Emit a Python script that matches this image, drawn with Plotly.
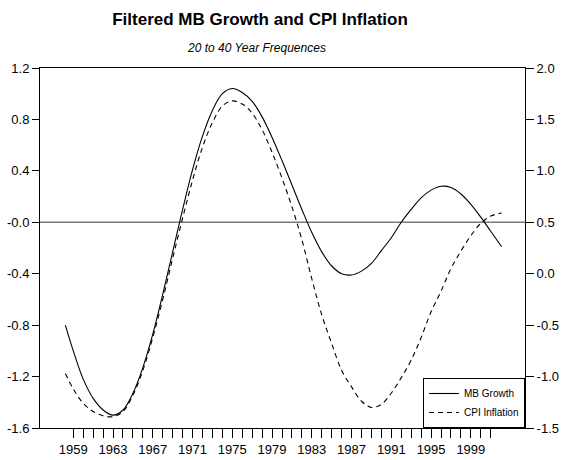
import plotly.graph_objects as go

# ---- data ----
years = [1958.2, 1959, 1960, 1961, 1962, 1963, 1964, 1965, 1966, 1967, 1968, 1969,
         1970, 1971, 1972, 1973, 1974, 1975, 1976, 1977, 1978, 1979, 1980, 1981,
         1982, 1983, 1984, 1985, 1986, 1987, 1988, 1989, 1990, 1991, 1992, 1993,
         1994, 1995, 1996, 1997, 1998, 1999, 2000, 2001, 2002.1]

mb_growth = [-0.80, -1.00, -1.22, -1.37, -1.46, -1.50, -1.46, -1.33, -1.13, -0.87,
             -0.56, -0.23, 0.10, 0.41, 0.67, 0.87, 1.00, 1.04, 1.01, 0.94, 0.82,
             0.66, 0.48, 0.29, 0.10, -0.08, -0.23, -0.34, -0.40, -0.41, -0.38,
             -0.32, -0.22, -0.12, 0.00, 0.10, 0.19, 0.25, 0.28, 0.27, 0.22, 0.14,
             0.04, -0.07, -0.19]

cpi_inflation = [-0.97, -1.12, -1.26, -1.34, -1.38, -1.39, -1.34, -1.18, -0.94,
                 -0.62, -0.25, 0.15, 0.54, 0.91, 1.23, 1.47, 1.63, 1.68, 1.65,
                 1.56, 1.40, 1.18, 0.93, 0.65, 0.33, -0.05, -0.40, -0.68, -0.94,
                 -1.10, -1.24, -1.30, -1.27, -1.16, -1.01, -0.84, -0.62, -0.37,
                 -0.17, 0.05, 0.22, 0.37, 0.49, 0.56, 0.59]

left_ticks = [1.2, 0.8, 0.4, 0.0, -0.4, -0.8, -1.2, -1.6]
left_labels = ["1.2", "0.8", "0.4", "-0.0", "-0.4", "-0.8", "-1.2", "-1.6"]
right_ticks = [2.0, 1.5, 1.0, 0.5, 0.0, -0.5, -1.0, -1.5]
right_labels = ["2.0", "1.5", "1.0", "0.5", "0.0", "-0.5", "-1.0", "-1.5"]
x_label_years = list(range(1959, 2000, 4))
x_minor_years = list(range(1959, 2002))

FONT = "Liberation Sans, Arial, Helvetica, sans-serif"

fig = go.Figure()
fig.add_trace(go.Scatter(x=years, y=mb_growth, mode="lines", name="MB Growth",
                         line=dict(color="black", width=1.1, shape="spline"),
                         yaxis="y"))
fig.add_trace(go.Scatter(x=years, y=cpi_inflation, mode="lines", name="CPI Inflation",
                         line=dict(color="black", width=1.1, dash="5px,4px", shape="spline"),
                         yaxis="y2"))

fig.add_shape(type="line", xref="paper", x0=0, x1=1, yref="y", y0=0, y1=0,
              line=dict(color="#7a7a7a", width=1.5), layer="below")

fig.update_layout(
    width=571, height=460,
    margin=dict(l=40, r=46, t=68, b=32, autoexpand=False),
    paper_bgcolor="white", plot_bgcolor="white",
    font=dict(family=FONT, size=13, color="black"),
    title=dict(text="<b>Filtered MB Growth and CPI Inflation</b>",
               x=260 / 571, xanchor="center", xref="container",
               y=1 - 19 / 460, yanchor="middle", yref="container",
               font=dict(family=FONT, size=17, color="black")),
    annotations=[dict(text="<i>20 to 40 Year Frequences</i>", xref="paper", yref="paper",
                      x=(256 - 40) / 485, y=1, yshift=20, showarrow=False,
                      xanchor="center", yanchor="middle",
                      font=dict(family=FONT, size=12, color="black"))],
    xaxis=dict(range=[1955.65, 2004.45], showgrid=False, zeroline=False,
               showline=True, linecolor="black", linewidth=1, mirror=True,
               automargin=False,
               tickmode="array", tickvals=x_label_years,
               ticktext=[str(y) for y in x_label_years],
               ticks="outside", ticklen=9, tickcolor="black", tickwidth=1,
               minor=dict(tickmode="array", tickvals=x_minor_years, ticks="outside",
                          ticklen=9, tickcolor="black", tickwidth=1, showgrid=False),
               tickfont=dict(size=13)),
    yaxis=dict(range=[-1.6, 1.2], showgrid=False, zeroline=False,
               showline=True, linecolor="black", linewidth=1, automargin=False,
               tickmode="array", tickvals=left_ticks, ticktext=left_labels,
               ticks="outside", ticklen=7, tickcolor="black", tickwidth=1,
               tickfont=dict(size=13)),
    yaxis2=dict(range=[-1.5, 2.0], overlaying="y", side="right", showgrid=False,
                zeroline=False, showline=True, linecolor="black", linewidth=1,
                automargin=False,
                tickmode="array", tickvals=right_ticks, ticktext=right_labels,
                ticks="outside", ticklen=8, tickcolor="black", tickwidth=1,
                tickfont=dict(size=13)),
    legend=dict(x=1, y=0, xanchor="right", yanchor="bottom",
                bordercolor="black", borderwidth=1, bgcolor="white",
                font=dict(family=FONT, size=10, color="black"),
                itemwidth=30, tracegroupgap=0),
    showlegend=True,
)

fig.write_html("out.html")
